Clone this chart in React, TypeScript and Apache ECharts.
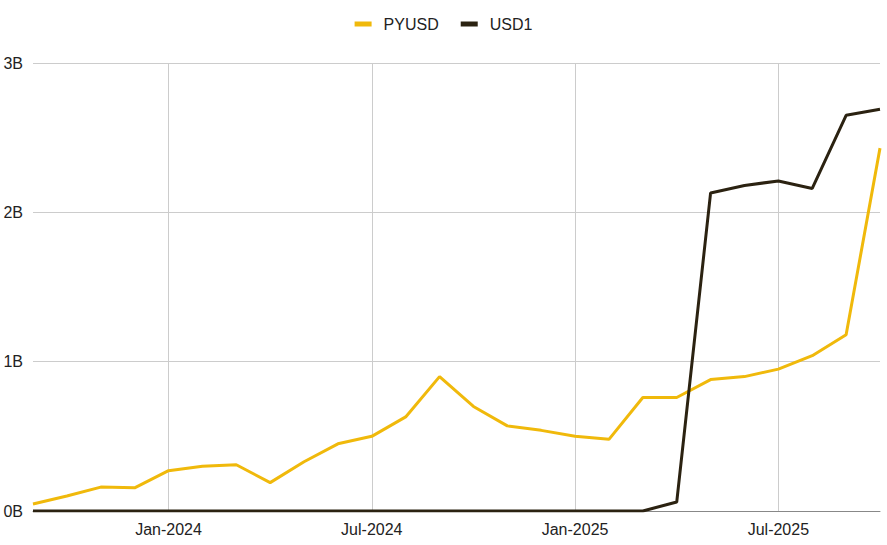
import React, { useEffect, useRef } from "react";
import * as echarts from "echarts";

const months = [
  "Sep-2023", "Oct-2023", "Nov-2023", "Dec-2023",
  "Jan-2024", "Feb-2024", "Mar-2024", "Apr-2024", "May-2024", "Jun-2024",
  "Jul-2024", "Aug-2024", "Sep-2024", "Oct-2024", "Nov-2024", "Dec-2024",
  "Jan-2025", "Feb-2025", "Mar-2025", "Apr-2025", "May-2025", "Jun-2025",
  "Jul-2025", "Aug-2025", "Sep-2025", "Oct-2025",
];

const pyusd = [
  0.047, 0.10, 0.16, 0.155, 0.27, 0.30, 0.31, 0.19, 0.33, 0.45,
  0.50, 0.63, 0.90, 0.70, 0.57, 0.54, 0.50, 0.48, 0.76, 0.76,
  0.88, 0.90, 0.95, 1.04, 1.18, 2.43,
];

const usd1 = [
  0, 0, 0, 0, 0, 0, 0, 0, 0, 0,
  0, 0, 0, 0, 0, 0, 0, 0, 0, 0.06,
  2.13, 2.18, 2.21, 2.16, 2.65, 2.69,
];

const seriesNames = ["PYUSD", "USD1"];
const yTicks = [0, 1, 2, 3];

const FONT = "Liberation Sans, Arial, sans-serif";

export default function App() {
  const ref = useRef<HTMLDivElement>(null);
  useEffect(() => {
    if (!ref.current) return;
    const chart = echarts.init(ref.current, null, { renderer: "svg" });
    const showIdx = (i: number) => i % 6 === 4;
    chart.setOption({
      animation: false,
      legend: {
        top: 11,
        left: "center",
        icon: "rect",
        itemWidth: 17,
        itemHeight: 5,
        itemGap: 22,
        textStyle: { fontFamily: FONT, fontSize: 16, color: "#222", padding: [0, 0, 0, 7] },
        data: seriesNames,
      },
      grid: { left: 33, right: 7, top: 63, bottom: 34, containLabel: false },
      xAxis: {
        type: "category",
        data: months,
        boundaryGap: false,
        axisLine: { show: true, lineStyle: { color: "#888", width: 1 } },
        axisTick: { show: false },
        axisLabel: {
          interval: (i: number) => showIdx(i),
          fontFamily: FONT,
          fontSize: 16,
          color: "#222",
          margin: 10,
        },
        splitLine: {
          show: true,
          interval: (i: number) => showIdx(i),
          lineStyle: { color: "#cccccc", width: 1 },
        },
      },
      yAxis: {
        type: "value",
        min: yTicks[0],
        max: yTicks[yTicks.length - 1],
        interval: 1,
        axisLine: { show: false },
        axisTick: { show: false },
        axisLabel: {
          formatter: (v: number) => `${v}B`,
          fontFamily: FONT,
          fontSize: 16,
          color: "#222",
          margin: 10,
        },
        splitLine: { show: true, lineStyle: { color: "#cccccc", width: 1 } },
      },
      series: [
        {
          name: seriesNames[0],
          type: "line",
          data: pyusd,
          showSymbol: false,
          symbol: "none",
          lineStyle: { color: "#F0B90B", width: 3 },
          itemStyle: { color: "#F0B90B" },
          z: 2,
        },
        {
          name: seriesNames[1],
          type: "line",
          data: usd1,
          showSymbol: false,
          symbol: "none",
          lineStyle: { color: "#2B2211", width: 3 },
          itemStyle: { color: "#2B2211" },
          z: 3,
        },
      ],
    });
    return () => chart.dispose();
  }, []);
  return <div ref={ref} style={{ width: 887, height: 545, position: "absolute", left: 0, top: 0 }} />;
}
